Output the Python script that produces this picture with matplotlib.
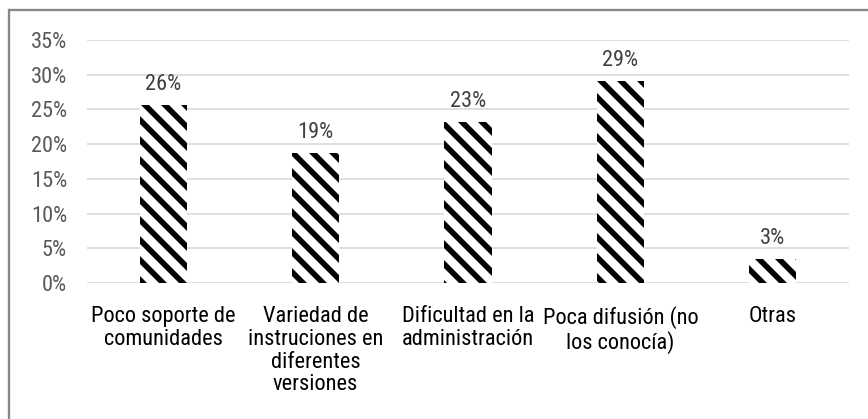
import numpy as np
import matplotlib
matplotlib.use("Agg")
import matplotlib.pyplot as plt
import matplotlib.patches as patches
from matplotlib.ticker import FuncFormatter

plt.rcParams['font.family'] = ['Roboto Condensed', 'Liberation Sans', 'DejaVu Sans']
plt.rcParams['hatch.linewidth'] = 3.4

categories = ["Poco soporte de\ncomunidades",
              "Variedad de\ninstruciones en\ndiferentes\nversiones",
              "Dificultad en la\nadministración",
              "Poca difusión (no\nlos conocía)",
              "Otras"]
values = [0.256, 0.187, 0.232, 0.291, 0.034]
yticks = [0, 0.05, 0.10, 0.15, 0.20, 0.25, 0.30, 0.35]

fig = plt.figure(figsize=(868/120, 419/120), dpi=120)
ax = fig.add_axes([87/868, 136/419, 762/868, 243/419])

x = np.arange(len(categories))
ax.bar(x, values, width=0.31, color='white', edgecolor='black',
       linewidth=0, hatch='\\\\', zorder=3)

for xi, v in zip(x, values):
    ax.annotate('{:.0%}'.format(v), (xi, v), xytext=(0, 6),
                textcoords='offset points', ha='center', va='bottom',
                fontsize=13.4, color='#404040')

ax.set_xlim(-0.5, len(categories) - 0.5)
ax.set_ylim(0, 0.35)
ax.set_yticks(yticks)
ax.yaxis.set_major_formatter(FuncFormatter(lambda v, p: '{:.0%}'.format(v)))
ax.set_xticks(x)
ax.set_xticklabels(categories, linespacing=1.1)

ax.grid(axis='y', color='#d9d9d9', linewidth=1.0, zorder=0)
for s in ax.spines.values():
    s.set_visible(False)
ax.tick_params(axis='y', length=0, pad=12, labelsize=13.4, labelcolor='#595959')
ax.tick_params(axis='x', length=0, pad=14, labelsize=13.4, labelcolor='black')

# outer frame (cut off at right and bottom)
fig.patches.append(patches.Rectangle((9/868, -0.1), 1.2, 1.1 - 10/419 + 0.001,
                                     transform=fig.transFigure, fill=False,
                                     edgecolor='#888888', linewidth=1.4))

fig.savefig('out.png', dpi=120)
